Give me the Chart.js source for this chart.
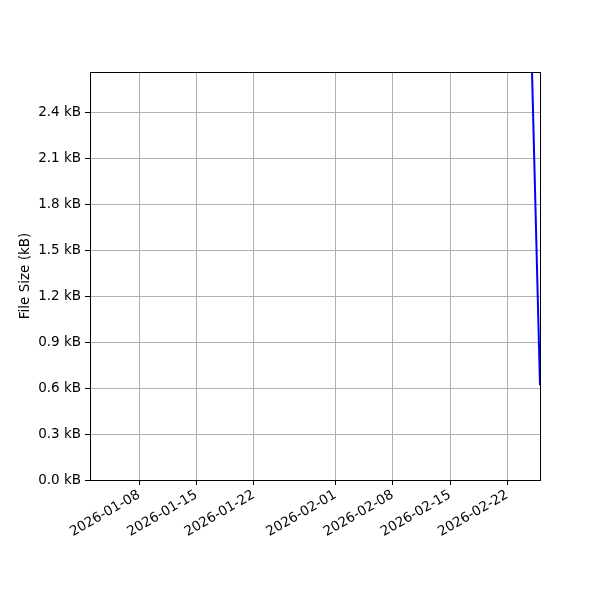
<!DOCTYPE html>
<html>
<head>
<meta charset="utf-8">
<script src="https://cdn.jsdelivr.net/npm/chart.js@4/dist/chart.umd.min.js"></script>
<style>
  html, body { margin: 0; padding: 0; background: #fff; }
  #wrap { width: 600px; height: 600px; }
</style>
</head>
<body>
<div id="wrap"><canvas id="chart" width="600" height="600"></canvas></div>
<script>
/* ── data ────────────────────────────────────────────────── */

const pointDates  = ["2026-02-25", "2026-02-26"];
const sizesKB     = [2.72, 0.62];

const tickDates   = ["2026-01-08", "2026-01-15", "2026-01-22", "2026-02-01",
                     "2026-02-08", "2026-02-15", "2026-02-22"];
const yTicks      = [0, 0.3, 0.6, 0.9, 1.2, 1.5, 1.8, 2.1, 2.4];

const xStart = "2026-01-02";
const xEnd   = "2026-02-26";
const yMax   = 2.668;

/* ── helpers ─────────────────────────────────────────────── */

const DAY = 86400000;
const base = Date.parse("2026-01-01T00:00:00Z");
const toDay = s => (Date.parse(s + "T00:00:00Z") - base) / DAY;

const tickDays = tickDates.map(toDay);
const FONT = { family: "'DejaVu Sans', sans-serif", size: 13.5 };

const frame = {
  id: "frame",
  afterDraw(chart) {
    const { ctx, chartArea: a } = chart;
    ctx.save();
    ctx.strokeStyle = "#000";
    ctx.lineWidth = 1;
    ctx.strokeRect(a.left + 0.5, a.top + 0.5, a.right - a.left, a.bottom - a.top);
    ctx.restore();
  },
};

/* ── chart ───────────────────────────────────────────────── */

new Chart(document.getElementById("chart"), {
  type: "line",
  data: {
    datasets: [{
      data: pointDates.map((d, i) => ({ x: toDay(d), y: sizesKB[i] })),
      borderColor: "#0000ff",
      borderWidth: 2,
      pointRadius: 0,
      tension: 0,
    }],
  },
  options: {
    responsive: false,
    animation: false,
    events: [],
    layout: { padding: { top: 72, right: 60, left: 0, bottom: 0 } },
    plugins: { legend: { display: false }, tooltip: { enabled: false } },
    scales: {
      x: {
        type: "linear",
        min: toDay(xStart),
        max: toDay(xEnd),
        afterBuildTicks: s => { s.ticks = tickDays.map(v => ({ value: v })); },
        afterFit: s => { s.height = 120; },
        ticks: {
          autoSkip: false,
          minRotation: 30,
          maxRotation: 30,
          color: "#000",
          font: FONT,
          padding: 2,
          callback: v => tickDates[tickDays.indexOf(v)] ?? "",
        },
        grid: { color: "#b0b0b0", lineWidth: 1, tickLength: 5, tickColor: "#000" },
        border: { color: "#000", width: 1 },
      },
      y: {
        min: 0,
        max: yMax,
        afterBuildTicks: s => { s.ticks = yTicks.map(v => ({ value: v })); },
        afterFit: s => { s.width = 90; },
        ticks: {
          color: "#000",
          font: FONT,
          padding: 4,
          callback: v => v.toFixed(1) + " kB",
        },
        title: {
          display: true,
          text: "File Size (kB)",
          color: "#000",
          font: FONT,
          padding: { top: 17, bottom: 0 },
        },
        grid: { color: "#b0b0b0", lineWidth: 1, tickLength: 5, tickColor: "#000" },
        border: { color: "#000", width: 1 },
      },
    },
  },
  plugins: [frame],
});
</script>
</body>
</html>
